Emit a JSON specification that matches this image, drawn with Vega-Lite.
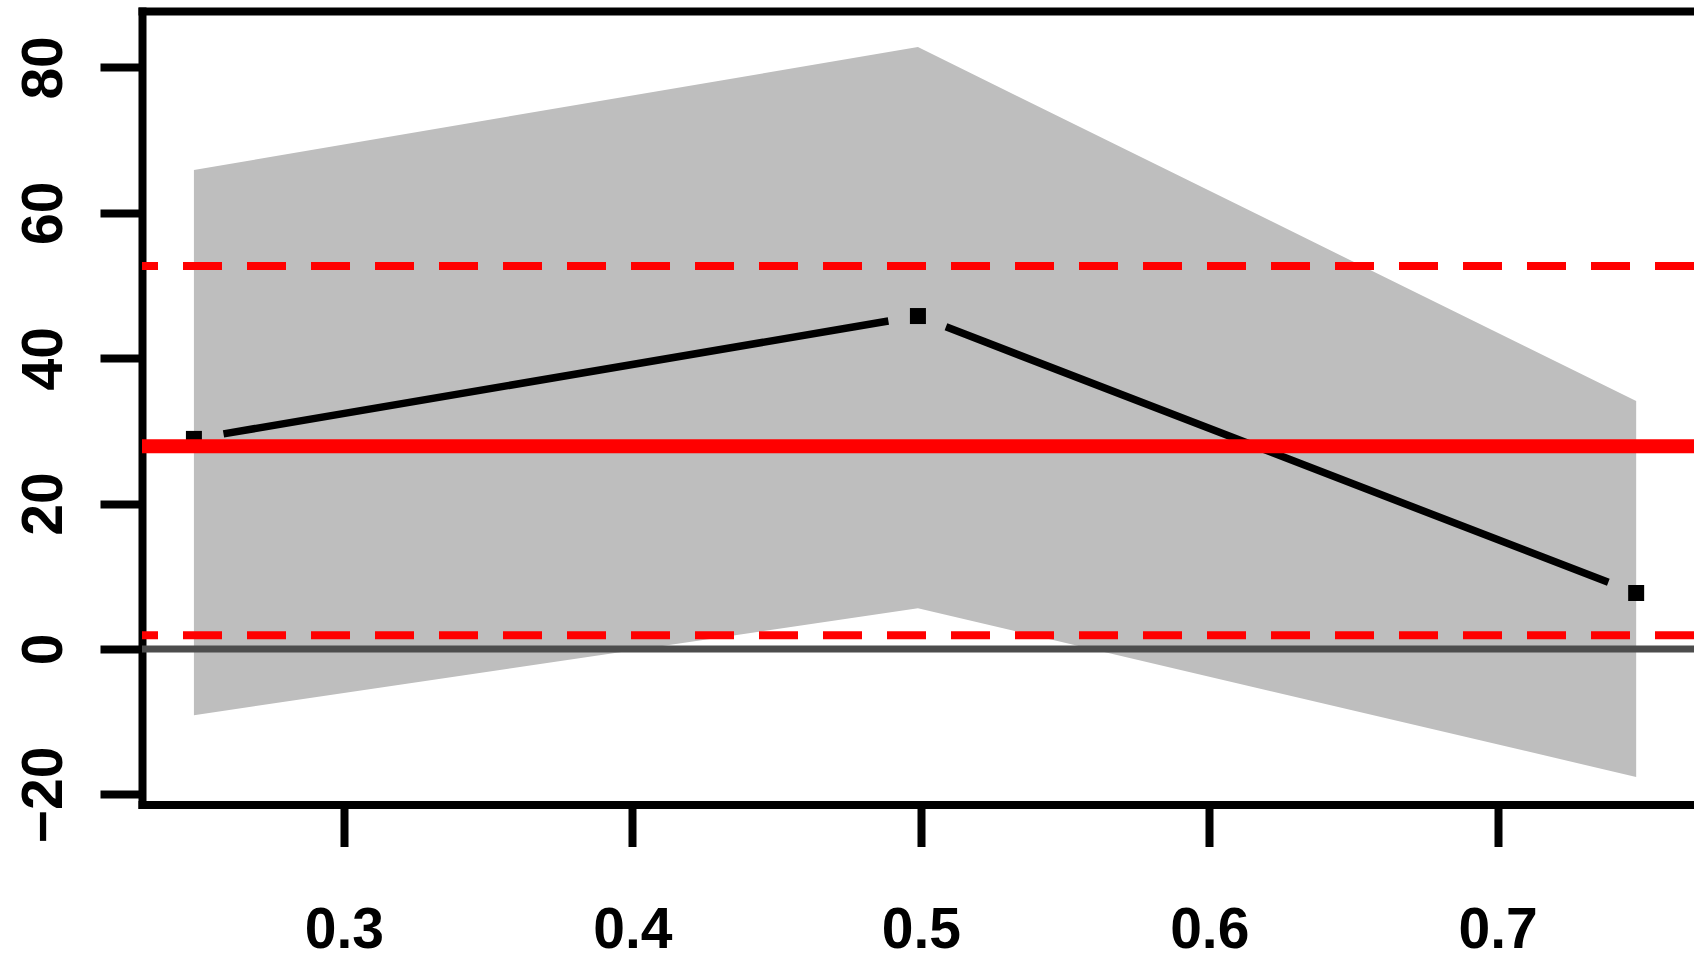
{
  "$schema": "https://vega.github.io/schema/vega-lite/v6.json",
  "width": 1552,
  "height": 793.5,
  "autosize": {"type": "none"},
  "padding": {"left": 142, "top": 11, "right": 0, "bottom": 155.5},
  "background": "white",
  "config": {
    "view": {"stroke": null},
    "axis": {
      "labelFont": "Liberation Sans",
      "labelFontWeight": "bold",
      "labelFontSize": 57,
      "labelColor": "black",
      "domainColor": "black",
      "domainWidth": 8,
      "domainCap": "square",
      "tickColor": "black",
      "tickWidth": 8,
      "tickSize": 42,
      "grid": false
    }
  },
  "datasets": {
    "band": [
      {"x": 0.248, "lower": -9.1, "upper": 65.9},
      {"x": 0.499, "lower": 5.6, "upper": 82.8},
      {"x": 0.748, "lower": -17.6, "upper": 34.1}
    ],
    "estimate": [
      {"x": 0.248, "y": 28.9},
      {"x": 0.499, "y": 45.8},
      {"x": 0.748, "y": 7.7}
    ],
    "refs": [
      {"value": 0, "kind": "zero"},
      {"value": 27.9, "kind": "solid"},
      {"value": 52.7, "kind": "dashed"},
      {"value": 1.9, "kind": "dashed"}
    ]
  },
  "layer": [
    {
      "data": {"name": "band"},
      "mark": {"type": "area", "color": "#BEBEBE", "opacity": 1},
      "encoding": {
        "x": {
          "field": "x", "type": "quantitative", "title": null,
          "scale": {"domain": [0.23, 0.76805], "nice": false, "zero": false},
          "axis": {
            "orient": "bottom",
            "values": [0.3, 0.4, 0.5, 0.6, 0.7],
            "format": ".1f",
            "labelPadding": 101,
            "labelBaseline": "alphabetic",
            "labelAlign": "center",
            "labelFlush": false,
            "labelOverlap": false
          }
        },
        "y": {
          "field": "upper", "type": "quantitative", "title": null,
          "scale": {"domain": [-21.39, 87.76], "nice": false, "zero": false},
          "axis": {
            "orient": "left",
            "values": [-20, 0, 20, 40, 60, 80],
            "labelAngle": -90,
            "labelAlign": "center",
            "labelBaseline": "alphabetic",
            "labelPadding": 39,
            "labelFlush": false,
            "labelOverlap": false
          }
        },
        "y2": {"field": "lower"}
      }
    },
    {
      "data": {"name": "refs"},
      "transform": [{"filter": "datum.kind === 'zero'"}],
      "mark": {"type": "rule", "color": "#4D4D4D", "strokeWidth": 7},
      "encoding": {"y": {"field": "value", "type": "quantitative", "title": null}}
    },
    {
      "data": {"name": "refs"},
      "transform": [{"filter": "datum.kind === 'dashed'"}],
      "mark": {"type": "rule", "color": "#FF0000", "strokeWidth": 8, "strokeDash": [39, 25], "strokeCap": "butt"},
      "encoding": {"y": {"field": "value", "type": "quantitative", "title": null}}
    },
    {
      "data": {"name": "estimate"},
      "mark": {"type": "line", "color": "black", "strokeWidth": 7.5, "strokeCap": "butt", "strokeDash": [0, 30, 674.4, 60, 709.9, 100]},
      "encoding": {
        "x": {"field": "x", "type": "quantitative", "title": null, "axis": null},
        "y": {"field": "y", "type": "quantitative", "title": null}
      }
    },
    {
      "data": {"name": "estimate"},
      "mark": {"type": "point", "shape": "square", "filled": true, "color": "black", "opacity": 1, "size": 256},
      "encoding": {
        "x": {"field": "x", "type": "quantitative", "title": null, "axis": null},
        "y": {"field": "y", "type": "quantitative", "title": null}
      }
    },
    {
      "data": {"name": "refs"},
      "transform": [{"filter": "datum.kind === 'solid'"}],
      "mark": {"type": "rule", "color": "#FF0000", "strokeWidth": 14},
      "encoding": {"y": {"field": "value", "type": "quantitative", "title": null}}
    },
    {
      "data": {"name": "band"},
      "mark": {"type": "point", "opacity": 0},
      "encoding": {
        "x": {
          "field": "x", "type": "quantitative", "title": null,
          "axis": {"orient": "top", "labels": false, "ticks": false, "domain": true}
        },
        "y": {"field": "upper", "type": "quantitative", "title": null}
      }
    }
  ],
  "resolve": {"axis": {"x": "independent"}}
}
